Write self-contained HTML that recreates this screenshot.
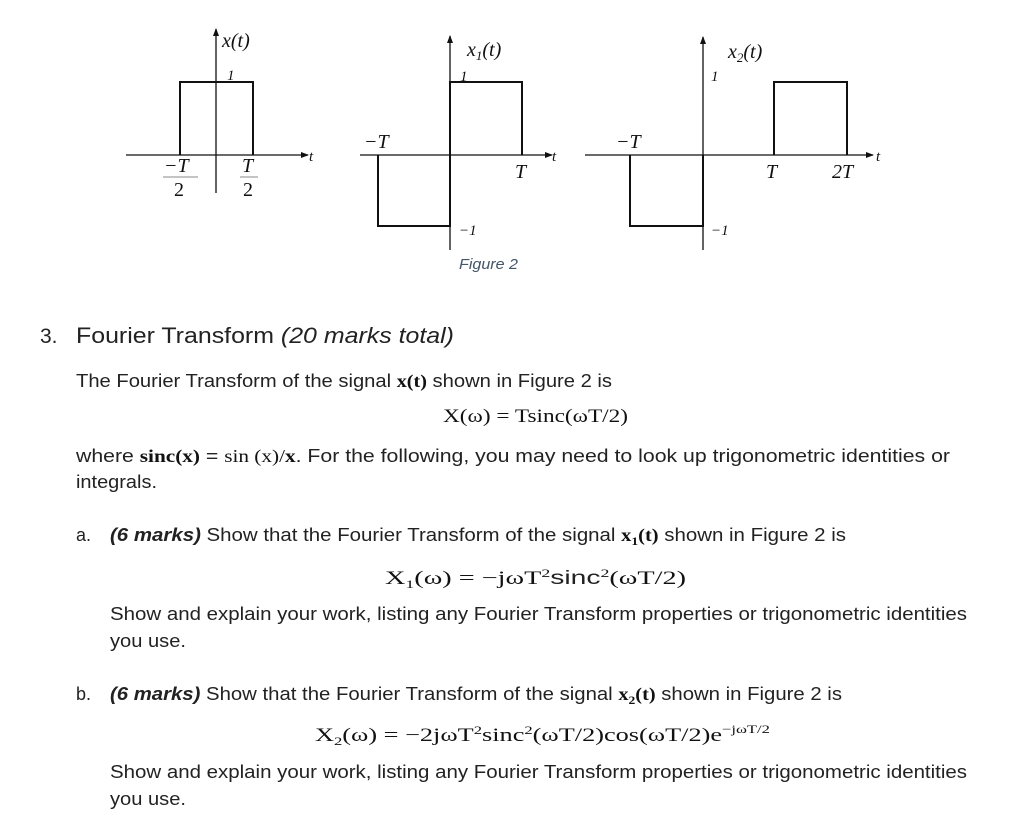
<!DOCTYPE html>
<html><head><meta charset="utf-8"><style>
html,body{margin:0;padding:0;background:#fff}
svg{display:block}
.s{font-family:"Liberation Sans",sans-serif;fill:#222}
.m{font-family:"Liberation Serif",serif;fill:#111}
.i{font-family:"Liberation Serif",serif;font-style:italic;fill:#111}
</style></head><body>
<svg width="1012" height="828" viewBox="0 0 1012 828" xmlns="http://www.w3.org/2000/svg">
<defs><marker id="a" markerWidth="8" markerHeight="6" refX="7" refY="3" orient="auto" markerUnits="userSpaceOnUse"><path d="M0,0 L8,3 L0,6 Z" fill="#111"/></marker></defs>
<g stroke="#111" fill="none">
<line x1="216" y1="193" x2="216" y2="29" stroke-width="1.3" marker-end="url(#a)"/>
<line x1="126" y1="155" x2="308" y2="155" stroke-width="1.3" marker-end="url(#a)"/>
<polyline points="180,155 180,82 253,82 253,155" stroke-width="2"/>
<line x1="450" y1="250" x2="450" y2="36" stroke-width="1.3" marker-end="url(#a)"/>
<line x1="360" y1="155" x2="552" y2="155" stroke-width="1.3" marker-end="url(#a)"/>
<polyline points="378,155 378,226 450,226 450,82 522,82 522,155" stroke-width="2"/>
<line x1="703" y1="250" x2="703" y2="37" stroke-width="1.3" marker-end="url(#a)"/>
<line x1="585" y1="155" x2="873" y2="155" stroke-width="1.3" marker-end="url(#a)"/>
<polyline points="630,155 630,226 703,226 703,155" stroke-width="2"/>
<polyline points="774,155 774,82 847,82 847,155" stroke-width="2"/>
<line x1="163" y1="177" x2="198" y2="177" stroke="#888" stroke-width="1"/>
<line x1="240" y1="177" x2="258" y2="177" stroke="#888" stroke-width="1"/>
</g>
<g class="i" font-size="20">
<text x="222" y="47">x(t)</text>
<text x="227" y="80" font-size="15">1</text>
<text x="164" y="172">−T</text>
<text x="174" y="196" font-style="normal">2</text>
<text x="242" y="172">T</text>
<text x="243" y="196" font-style="normal">2</text>
<text x="309" y="161" font-size="15">t</text>
<text x="467" y="56">x<tspan font-size="13" dy="4">1</tspan><tspan dy="-4">(t)</tspan></text>
<text x="460" y="81" font-size="15">1</text>
<text x="364" y="148">−T</text>
<text x="515" y="178">T</text>
<text x="552" y="161" font-size="15">t</text>
<text x="459" y="235" font-size="15">−1</text>
<text x="728" y="58">x<tspan font-size="13" dy="4">2</tspan><tspan dy="-4">(t)</tspan></text>
<text x="711" y="81" font-size="15">1</text>
<text x="616" y="148">−T</text>
<text x="766" y="178">T</text>
<text x="832" y="178">2T</text>
<text x="876" y="161" font-size="15">t</text>
<text x="711" y="235" font-size="15">−1</text>
</g>
<text x="459" y="269" font-family="Liberation Sans,sans-serif" font-style="italic" font-size="15" fill="#44546a" textLength="59" lengthAdjust="spacingAndGlyphs">Figure 2</text>

<text class="s" x="40" y="343" font-size="21">3.</text>
<text class="s" x="76" y="343" font-size="22" textLength="378" lengthAdjust="spacingAndGlyphs">Fourier Transform <tspan font-style="italic">(20 marks total)</tspan></text>
<text class="s" x="76" y="387" font-size="18" textLength="536" lengthAdjust="spacingAndGlyphs">The Fourier Transform of the signal <tspan class="m" font-weight="bold">x(t)</tspan> shown in Figure 2 is</text>
<text class="m" x="443" y="422" font-size="19" textLength="185" lengthAdjust="spacingAndGlyphs">X(ω) = Tsinc(ωT/2)</text>
<text class="s" x="76" y="462" font-size="18" textLength="874" lengthAdjust="spacingAndGlyphs">where <tspan class="m" font-weight="bold">sinc(x)</tspan> = <tspan class="m">sin (x)/</tspan><tspan class="m" font-weight="bold">x</tspan>.  For the following, you may need to look up trigonometric identities or</text>
<text class="s" x="76" y="488" font-size="18" textLength="81" lengthAdjust="spacingAndGlyphs">integrals.</text>

<text class="s" x="76" y="541" font-size="18">a.</text>
<text class="s" x="110" y="541" font-size="18" textLength="736" lengthAdjust="spacingAndGlyphs"><tspan font-weight="bold" font-style="italic">(6 marks)</tspan>  Show that the Fourier Transform of the signal <tspan class="m" font-weight="bold">x<tspan font-size="12" dy="4">1</tspan><tspan dy="-4">(t)</tspan></tspan> shown in Figure 2 is</text>
<text class="m" x="385" y="584" font-size="19" textLength="301" lengthAdjust="spacingAndGlyphs">X<tspan font-size="12" dy="4">1</tspan><tspan dy="-4">(ω) = −jωT</tspan><tspan font-size="12" dy="-7">2</tspan><tspan dy="7" class="s">sinc</tspan><tspan font-size="12" dy="-7">2</tspan><tspan dy="7">(ωT/2)</tspan></text>
<text class="s" x="110" y="620" font-size="18" textLength="857" lengthAdjust="spacingAndGlyphs">Show and explain your work, listing any Fourier Transform properties or trigonometric identities</text>
<text class="s" x="110" y="647" font-size="18" textLength="76" lengthAdjust="spacingAndGlyphs">you use.</text>

<text class="s" x="76" y="700" font-size="18">b.</text>
<text class="s" x="110" y="700" font-size="18" textLength="732" lengthAdjust="spacingAndGlyphs"><tspan font-weight="bold" font-style="italic">(6 marks)</tspan> Show that the Fourier Transform of the signal <tspan class="m" font-weight="bold">x<tspan font-size="12" dy="4">2</tspan><tspan dy="-4">(t)</tspan></tspan> shown in Figure 2 is</text>
<text class="m" x="315" y="741" font-size="19" textLength="455" lengthAdjust="spacingAndGlyphs">X<tspan font-size="12" dy="4">2</tspan><tspan dy="-4">(ω) = −2jωT</tspan><tspan font-size="12" dy="-7">2</tspan><tspan dy="7">sinc</tspan><tspan font-size="12" dy="-7">2</tspan><tspan dy="7">(ωT/2)cos(ωT/2)e</tspan><tspan font-size="12" dy="-8">−jωT/2</tspan></text>
<text class="s" x="110" y="778" font-size="18" textLength="857" lengthAdjust="spacingAndGlyphs">Show and explain your work, listing any Fourier Transform properties or trigonometric identities</text>
<text class="s" x="110" y="805" font-size="18" textLength="76" lengthAdjust="spacingAndGlyphs">you use.</text>
</svg>
</body></html>
